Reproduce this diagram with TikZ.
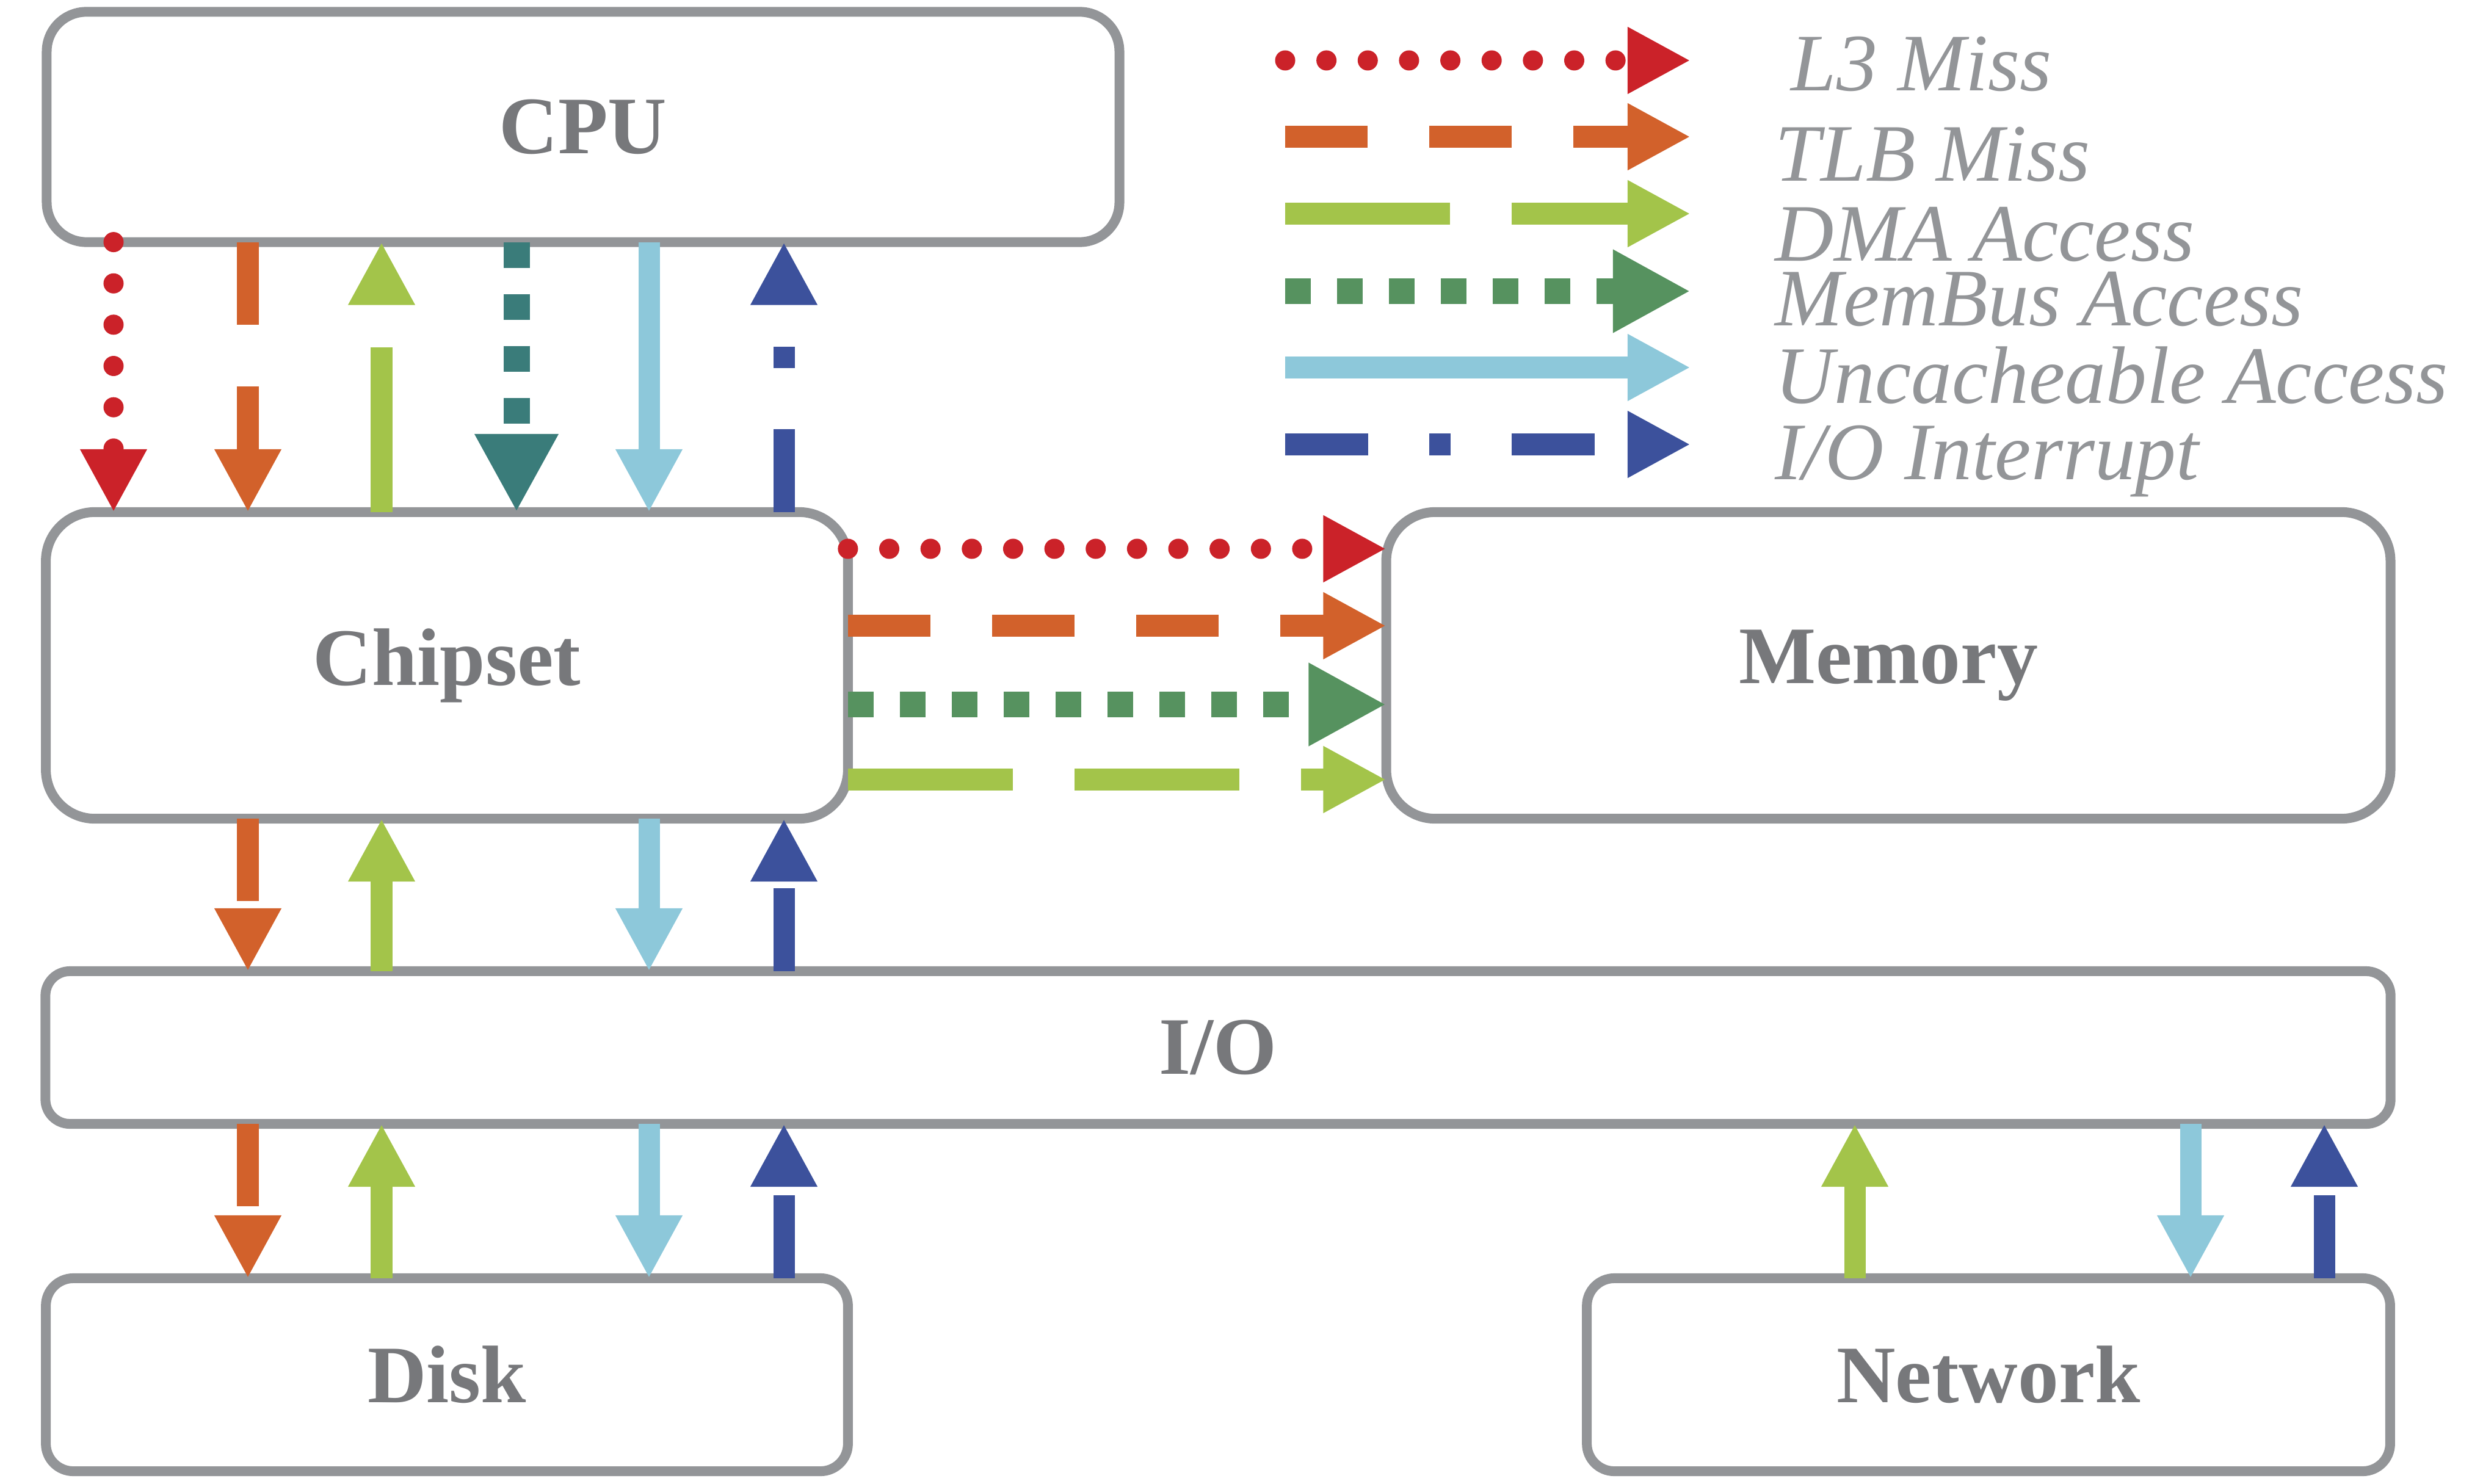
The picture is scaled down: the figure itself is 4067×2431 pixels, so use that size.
\documentclass[tikz,border=0pt]{standalone}
\usepackage{fontspec}
\setmainfont{Liberation Serif}
\usepackage{xcolor}
\usepackage{tikz}
\usetikzlibrary{arrows.meta}
\definecolor{boxgray}{HTML}{939598}
\definecolor{labelgray}{HTML}{77787B}
\definecolor{missred}{HTML}{CB2229}
\definecolor{tlbcol}{HTML}{D2612B}
\definecolor{dmacol}{HTML}{A3C44A}
\definecolor{busgreen}{HTML}{56925F}
\definecolor{busteal}{HTML}{3A7C7A}
\definecolor{uncol}{HTML}{8DC8DA}
\definecolor{irqcol}{HTML}{3C519C}
\newcommand{\boxfont}{\bfseries\fontsize{38}{40}\selectfont}
\newcommand{\legfont}{\itshape\fontsize{38}{40}\selectfont}
\tikzset{
  unit/.style={draw=boxgray, line width=0.16cm, outer sep=0pt, inner sep=0pt, text=labelgray, font=\boxfont},
  legtext/.style={text=boxgray, font=\legfont, inner sep=0pt},
  flow/.style={line width=0.35cm, -{Triangle[length=1.03cm,width=1.02cm]}},
  lthree/.style={flow, missred, line width=0.33cm, line cap=round, dash pattern=on 0pt off 0.676cm},
  tlb/.style={flow, tlbcol, dash pattern=on 1.35cm off 1.01cm},
  dma/.style={flow, dmacol, dash pattern=on 2.70cm off 1.01cm},
  membus/.style={flow, busgreen, line width=0.42cm, dash pattern=on 0.42cm off 0.43cm, -{Triangle[length=1.27cm,width=1.27cm]}},
  uncache/.style={flow, uncol},
  irq/.style={flow, irqcol, dash pattern=on 1.36cm off 1.00cm on 0.35cm off 1.00cm}
}
\begin{document}
\begin{tikzpicture}[x=0.01cm,y=-0.01cm]
\useasboundingbox (0,0) rectangle (4067,2431);
%% boxes
\node[unit, rounded corners=0.65cm, minimum width=17.56cm, minimum height=3.77cm] (cpu) at (955,208) {CPU};
\node[unit, rounded corners=0.8cm, minimum width=13.13cm, minimum height=5.02cm] (chip) at (732,1090) {Chipset};
\node[unit, rounded corners=0.8cm, minimum width=16.44cm, minimum height=5.02cm] (mem) at (3093,1090) {Memory};
\node[unit, rounded corners=0.4cm, minimum width=38.39cm, minimum height=2.50cm] (io) at (1995,1716) {I/O};
\node[unit, rounded corners=0.45cm, minimum width=13.13cm, minimum height=3.16cm] (disk) at (732,2252) {Disk};
\node[unit, rounded corners=0.45cm, minimum width=13.15cm, minimum height=3.16cm] (net) at (3257,2252) {Network};
%% columns and rows of the connectors
\foreach \n/\cx in {k1/186, k2/406, k3/625, k4/846, k5/1063, k6/1284, n1/3038, n2/3588, n3/3807}
    \coordinate (\n) at (\cx,0);
\foreach \n/\cy in {h1/899, h2/1025, h3/1154, h4/1277}
    \coordinate (\n) at (0,\cy);
%% cpu <-> chipset
\draw[lthree] (cpu.south -| k1) -- (chip.north -| k1);
\draw[tlb] (cpu.south -| k2) -- (chip.north -| k2);
\draw[dma] (chip.north -| k3) -- (cpu.south -| k3);
\draw[membus, busteal, line width=0.43cm, -{Triangle[length=1.28cm,width=1.28cm]}] (cpu.south -| k4) -- (chip.north -| k4);
\draw[uncache] (cpu.south -| k5) -- (chip.north -| k5);
\draw[irq] (chip.north -| k6) -- (cpu.south -| k6);
%% chipset -> memory
\draw[lthree] (chip.east |- h1) -- (mem.west |- h1);
\draw[tlb] (chip.east |- h2) -- (mem.west |- h2);
\draw[membus] (chip.east |- h3) -- (mem.west |- h3);
\draw[dma] (chip.east |- h4) -- (mem.west |- h4);
%% chipset <-> i/o <-> disk
\foreach \ua/\ub in {chip/io, io/disk} {
    \draw[tlb] (\ua.south -| k2) -- (\ub.north -| k2);
    \draw[dma] (\ub.north -| k3) -- (\ua.south -| k3);
    \draw[uncache] (\ua.south -| k5) -- (\ub.north -| k5);
    \draw[irq] (\ub.north -| k6) -- (\ua.south -| k6);
}
%% i/o <-> network
\draw[dma] (net.north -| n1) -- (io.south -| n1);
\draw[uncache] (io.south -| n2) -- (net.north -| n2);
\draw[irq] (net.north -| n3) -- (io.south -| n3);
%% legend
\foreach \i/\sty/\ly/\tx/\ty/\txt in {1/lthree/99/2933/149/{L3 Miss}, 2/tlb/224/2907/297/{TLB Miss},
    3/dma/350/2907/428/{DMA Access}, 4/membus/477/2907/534/{MemBus Access},
    5/uncache/602/2907/660/{Uncacheable Access}, 6/irq/728/2907/785/{I/O Interrupt}} {
    \coordinate (la\i) at (2105,\ly);
    \coordinate (lb\i) at (2769,\ly);
    \draw[\sty] (la\i) -- (lb\i);
    \node[legtext, anchor=base west] (lg\i) at (\tx,\ty) {\txt};
}
\end{tikzpicture}
\end{document}
